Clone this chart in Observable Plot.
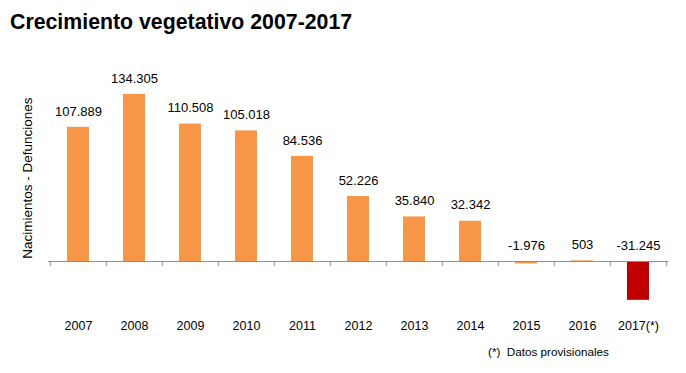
<!DOCTYPE html>
<html>
<head>
<meta charset="utf-8">
<script src="https://cdn.jsdelivr.net/npm/d3@7"></script>
<script src="https://cdn.jsdelivr.net/npm/@observablehq/plot@0.6"></script>
<style>
  html, body { margin: 0; padding: 0; background: #fff; }
  body { width: 686px; height: 373px; position: relative; overflow: hidden; font-family: "Liberation Sans", Arial, sans-serif; }
  #title { position: absolute; left: 10px; top: 10px; font-size: 21.3px; font-weight: bold; color: #000; margin: 0; }
  #note { position: absolute; left: 488px; top: 345px; font-size: 11.7px; color: #000; }
  #chart { position: absolute; left: 0; top: 0; }
</style>
</head>
<body>
<div id="chart"></div>
<div id="title">Crecimiento vegetativo 2007-2017</div>
<div id="note">(*)&nbsp; Datos provisionales</div>
<script>
const years = ["2007","2008","2009","2010","2011","2012","2013","2014","2015","2016","2017(*)"];
const values = [107889, 134305, 110508, 105018, 84536, 52226, 35840, 32342, -1976, 503, -31245];
const labels = ["107.889","134.305","110.508","105.018","84.536","52.226","35.840","32.342","-1.976","503","-31.245"];
const provisional = ["2017(*)"];
const yLabel = "Nacimientos - Defunciones";

const data = years.map((y, i) => ({year: y, value: values[i], label: labels[i]}));
const orange = "#F79646";
const red = "#C00000";
const bw = (668 - 48) / years.length;

const chart = Plot.plot({
  width: 686,
  height: 373,
  marginLeft: 48,
  marginRight: 18,
  marginTop: 74.5,
  marginBottom: 62.3,
  style: {fontFamily: "'Liberation Sans', Arial, sans-serif", fontSize: "12px", color: "#000", background: "transparent"},
  x: {domain: years, paddingInner: 0.6, paddingOuter: 0.3, label: null},
  y: {domain: [-40000, 150000], axis: null},
  marks: [
    Plot.barY(data, {x: "year", y: "value", fill: d => provisional.includes(d.year) ? red : orange}),
    Plot.ruleY([0], {stroke: "#8c8c8c", strokeWidth: 1}),
    Plot.ruleX(years, {x: d => d, y1: 0, y2: -4200, dx: -bw / 2, stroke: "#8c8c8c"}),
    Plot.ruleX([years[years.length - 1]], {x: d => d, y1: 0, y2: -4200, dx: bw / 2, stroke: "#8c8c8c"}),
    Plot.text(data, {x: "year", y: d => Math.max(d.value, 0), text: "label", dy: -16, fontSize: 13, fill: "#000"}),
    Plot.axisX({tickSize: 0, tickPadding: 10, fontSize: 12.5, label: null}),
    Plot.text([yLabel], {frameAnchor: "left", textAnchor: "middle", rotate: -90, dx: -21, dy: -15, fontSize: 13.5, fill: "#000"})
  ]
});
document.getElementById("chart").appendChild(chart);
</script>
</body>
</html>
